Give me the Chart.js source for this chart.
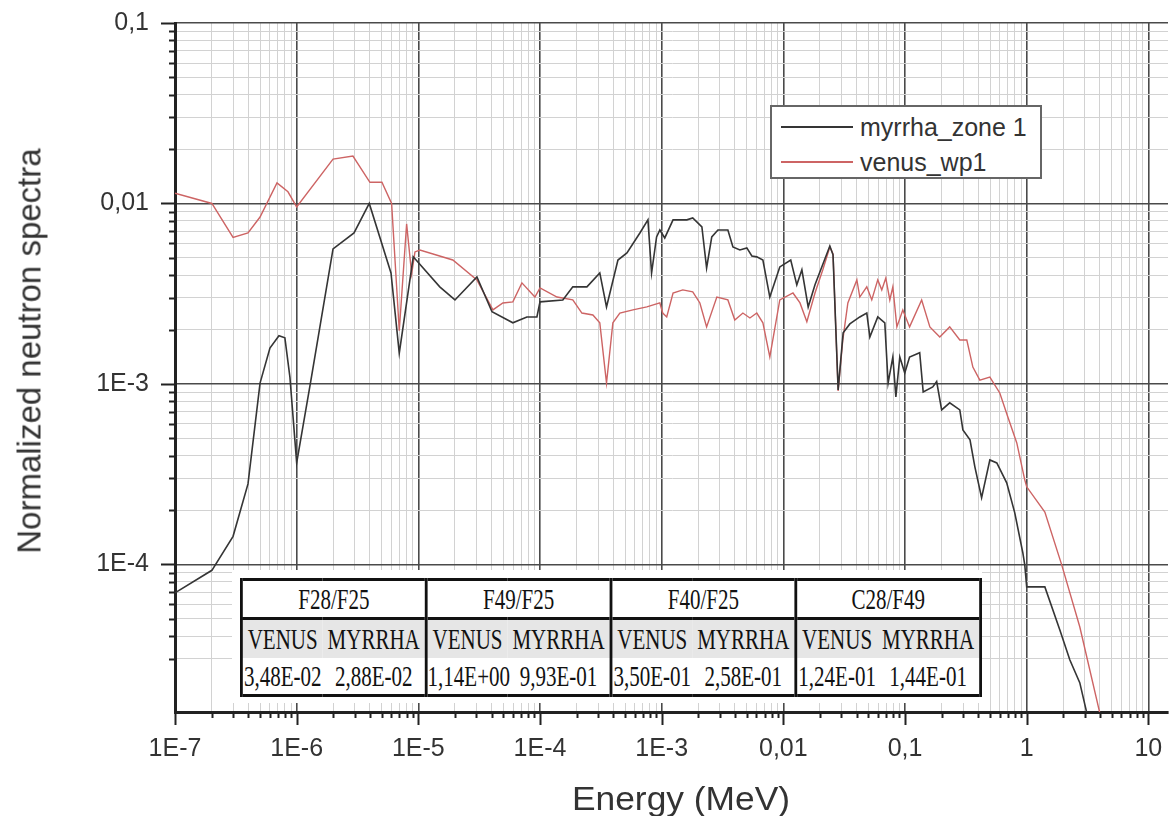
<!DOCTYPE html>
<html>
<head>
<meta charset="utf-8">
<title>Normalized neutron spectra</title>
<script src="https://cdn.jsdelivr.net/npm/chart.js@4.4.0/dist/chart.umd.min.js"></script>
<style>
  body { margin: 0; background: #fff; }
  #wrap { position: relative; width: 1170px; height: 816px; overflow: hidden; }
  #spectra { position: absolute; left: 0; top: 0; }

  .axis-title {
    position: absolute;
    font-family: "Liberation Sans", Arial, sans-serif;
    color: #333;
    white-space: nowrap;
    line-height: 1;
  }
  #xTitle { left: 681px; top: 798px; font-size: 34px; transform: translate(-50%, -50%) scaleX(1.04); }
  #yTitle { left: 29px; top: 351px; font-size: 33px; transform: translate(-50%, -50%) rotate(-90deg); }

  #legend {
    position: absolute; left: 770px; top: 105px;
    width: 268px; height: 70px;
    border: 2px solid #666; background: #fff;
    font-family: "Liberation Sans", Arial, sans-serif; font-size: 25px; color: #333;
  }
  #legend .item { position: absolute; left: 9px; height: 30px; display: flex; align-items: center; white-space: nowrap; }
  #legend .item i { display: inline-block; width: 72px; height: 0; border-top: 2px solid; margin-right: 7px; }

  #tableBox { position: absolute; left: 232px; top: 570px; width: 750px; height: 133px; background: #fff; }
  #ratios {
    position: absolute; left: 8px; top: 8px; width: 1057px;
    transform-origin: 0 0; transform: scaleX(0.7);
    border-collapse: collapse; table-layout: fixed;
    border: 4.5px solid #111; border-top-width: 3px; border-bottom-width: 3px;
    font-family: "Liberation Serif", "Times New Roman", serif; font-size: 30px; color: #111;
  }
  #ratios col.l { width: 116px; }
  #ratios col.r { width: 148px; }
  #ratios th { height: 36px; padding: 0; font-weight: normal; border-right: 4px solid #111; border-bottom: 3px solid #111; }
  #ratios td { padding: 0; text-align: center; white-space: nowrap; }
  #ratios td.r { border-right: 4px solid #111; }
  #ratios tr.sub td { height: 38px; background: #e6e6e6; }
  #ratios tr.val td { height: 36px; }
</style>
</head>
<body>
<div id="wrap">
  <canvas id="spectra" width="1170" height="816"></canvas>
  <div class="axis-title" id="xTitle">Energy (MeV)</div>
  <div class="axis-title" id="yTitle">Normalized neutron spectra</div>
  <div id="legend"></div>
  <div id="tableBox"><table id="ratios"></table></div>
</div>

<script>
// axis ranges and tick labels
const xRange = [1e-7, 14.5];
const yRange = [1.52e-5, 0.1];
const xTickValues = [1e-7, 1e-6, 1e-5, 1e-4, 1e-3, 0.01, 0.1, 1, 10];
const xTickLabels = ['1E-7', '1E-6', '1E-5', '1E-4', '1E-3', '0,01', '0,1', '1', '10'];
const yTickValues = [1e-4, 1e-3, 0.01, 0.1];
const yTickLabels = ['1E-4', '1E-3', '0,01', '0,1'];

// myrrha_zone 1 (energy in MeV, normalized flux)
const myrrhaEnergy = [
  1e-7, 2.01e-7, 3.0e-7, 3.98e-7, 5.0e-7, 6.03e-7, 7.15e-7, 8.0e-7, 8.8e-7, 1.0e-6,
  1.31e-6, 1.99e-6, 2.96e-6, 3.95e-6, 5.96e-6, 6.97e-6, 9.08e-6, 1.5e-5, 2.0e-5, 3.03e-5,
  4.03e-5, 5.98e-5, 7.8e-5, 9.43e-5, 1.0e-4, 1.54e-4, 1.86e-4, 2.43e-4, 3.1e-4, 3.52e-4,
  4.37e-4, 5.18e-4, 6.62e-4, 7.71e-4, 8.26e-4, 9.08e-4, 9.66e-4, 1.06e-3, 1.24e-3, 1.61e-3,
  1.8e-3, 2.14e-3, 2.34e-3, 2.58e-3, 2.9e-3, 3.5e-3, 3.85e-3, 4.39e-3, 5.01e-3, 5.51e-3,
  6.05e-3, 6.79e-3, 7.74e-3, 9.35e-3, 1.15e-2, 1.29e-2, 1.42e-2, 1.6e-2, 1.82e-2, 2.41e-2,
  2.56e-2, 2.82e-2, 3.1e-2, 3.52e-2, 4.25e-2, 4.85e-2, 5.14e-2, 5.97e-2, 6.82e-2, 7.26e-2,
  7.94e-2, 8.41e-2, 9.06e-2, 9.95e-2, 0.109, 0.132, 0.141, 0.169, 0.182, 0.2,
  0.233, 0.282, 0.299, 0.342, 0.375, 0.426, 0.498, 0.568, 0.685, 0.798,
  0.929, 0.964, 1.0, 1.41, 1.87, 2.26, 2.73, 3.12, 3.43
];
const myrrhaFlux = [
  6.95e-5, 9.27e-5, 1.43e-4, 2.79e-4, 1.01e-3, 1.58e-3, 1.85e-3, 1.8e-3, 1.09e-3, 3.65e-4,
  1.05e-3, 5.6e-3, 6.86e-3, 1.0e-2, 4.12e-3, 1.48e-3, 5.06e-3, 3.45e-3, 2.92e-3, 3.92e-3,
  2.51e-3, 2.18e-3, 2.35e-3, 2.35e-3, 2.85e-3, 2.92e-3, 3.45e-3, 3.45e-3, 4.12e-3, 2.67e-3,
  4.86e-3, 5.32e-3, 6.86e-3, 8.11e-3, 4.12e-3, 6.52e-3, 7.13e-3, 6.44e-3, 8.11e-3, 8.11e-3,
  8.32e-3, 7.41e-3, 4.39e-3, 6.52e-3, 7.13e-3, 7.13e-3, 5.74e-3, 5.52e-3, 5.67e-3, 5.12e-3,
  5.06e-3, 4.86e-3, 3.03e-3, 4.45e-3, 4.86e-3, 3.54e-3, 4.29e-3, 2.67e-3, 3.54e-3, 5.81e-3,
  5.19e-3, 9.27e-4, 1.92e-3, 2.15e-3, 2.35e-3, 2.47e-3, 1.82e-3, 2.35e-3, 2.18e-3, 1.01e-3,
  1.41e-3, 8.47e-4, 1.41e-3, 1.15e-3, 1.41e-3, 1.49e-3, 9.03e-4, 9.62e-4, 1.03e-3, 7.18e-4,
  7.85e-4, 7.18e-4, 5.56e-4, 4.9e-4, 3.47e-4, 2.34e-4, 3.79e-4, 3.65e-4, 2.83e-4, 1.93e-4,
  1.16e-4, 9.93e-5, 7.5e-5, 7.5e-5, 4.34e-5, 2.96e-5, 2.21e-5, 1.5e-5, 1.07e-5
];

// venus_wp1
const venusEnergy = [
  1e-7, 2.01e-7, 3.0e-7, 3.98e-7, 5.0e-7, 6.89e-7, 8.48e-7, 1.0e-6, 1.99e-6, 2.9e-6,
  4.0e-6, 5.02e-6, 6.03e-6, 6.97e-6, 8.01e-6, 8.81e-6, 9.38e-6, 1.03e-5, 1.92e-5, 3.03e-5,
  4.1e-5, 4.95e-5, 5.98e-5, 7.1e-5, 9.08e-5, 1.0e-4, 1.38e-4, 1.86e-4, 2.21e-4, 2.72e-4,
  3.1e-4, 3.52e-4, 3.97e-4, 4.53e-4, 5.8e-4, 7.55e-4, 9.66e-4, 1.02e-3, 1.1e-3, 1.24e-3,
  1.49e-3, 1.8e-3, 2.06e-3, 2.34e-3, 2.84e-3, 3.5e-3, 3.99e-3, 4.65e-3, 5.31e-3, 6.05e-3,
  6.79e-3, 7.74e-3, 9.35e-3, 1.2e-2, 1.37e-2, 1.56e-2, 1.82e-2, 2.11e-2, 2.41e-2, 2.56e-2,
  2.82e-2, 3.08e-2, 3.39e-2, 4.02e-2, 4.25e-2, 4.85e-2, 5.33e-2, 5.97e-2, 6.44e-2, 6.95e-2,
  7.5e-2, 7.94e-2, 8.57e-2, 9.59e-2, 0.109, 0.137, 0.16, 0.193, 0.233, 0.282,
  0.322, 0.361, 0.412, 0.498, 0.601, 0.7, 0.829, 0.964, 1.0, 1.41,
  1.94, 2.73, 3.99, 4.3
];
const venusFlux = [
  1.14e-2, 1.0e-2, 6.49e-3, 6.86e-3, 8.41e-3, 1.3e-2, 1.16e-2, 9.57e-3, 1.76e-2, 1.83e-2,
  1.31e-2, 1.31e-2, 1.0e-2, 1.97e-3, 7.7e-3, 4.07e-3, 5.39e-3, 5.52e-3, 4.86e-3, 3.77e-3,
  2.57e-3, 2.81e-3, 2.85e-3, 3.63e-3, 3.03e-3, 3.4e-3, 3.03e-3, 2.92e-3, 2.47e-3, 2.41e-3,
  2.18e-3, 1.01e-3, 2.18e-3, 2.47e-3, 2.57e-3, 2.67e-3, 2.81e-3, 2.47e-3, 2.35e-3, 3.19e-3,
  3.32e-3, 3.24e-3, 2.81e-3, 2.07e-3, 3.03e-3, 2.92e-3, 2.26e-3, 2.47e-3, 2.32e-3, 2.47e-3,
  2.18e-3, 1.41e-3, 2.92e-3, 3.19e-3, 2.81e-3, 2.21e-3, 3.19e-3, 4.29e-3, 5.74e-3, 5.25e-3,
  9.14e-4, 1.75e-3, 2.81e-3, 3.77e-3, 3.03e-3, 3.45e-3, 2.92e-3, 3.77e-3, 3.32e-3, 3.86e-3,
  2.92e-3, 3.45e-3, 2.07e-3, 2.57e-3, 2.07e-3, 2.92e-3, 2.07e-3, 1.82e-3, 2.07e-3, 1.75e-3,
  1.75e-3, 1.24e-3, 1.05e-3, 1.09e-3, 8.91e-4, 6.56e-4, 4.71e-4, 2.94e-4, 2.69e-4, 1.95e-4,
  9.93e-5, 4.51e-5, 1.5e-5, 1.21e-5
];

// spectral index table
const ratioNames = ['F28/F25', 'F49/F25', 'F40/F25', 'C28/F49'];
const venusRatios = ['3,48E-02', '1,14E+00', '3,50E-01', '1,24E-01'];
const myrrhaRatios = ['2,88E-02', '9,93E-01', '2,58E-01', '1,44E-01'];

const seriesNames = ['myrrha_zone 1', 'venus_wp1'];
const seriesColors = ['#353535', 'rgb(205, 100, 100)'];

// ---- helpers for log ticks
function mantissa(v) {
  const e = Math.floor(Math.log10(v) + 1e-9);
  return v / Math.pow(10, e);
}
function isDecade(v) { return Math.abs(mantissa(v) - 1) < 1e-6; }
function isWhole(v) { const m = mantissa(v); return Math.abs(m - Math.round(m)) < 1e-6; }
function labelFor(values, labels, v) {
  const i = values.findIndex(t => Math.abs(Math.log10(t) - Math.log10(v)) < 1e-6);
  return i >= 0 ? labels[i] : '';
}
function gridColor(ctx) {
  const v = ctx.tick.value;
  if (isDecade(v)) return '#4a4a4a';
  if (!isWhole(v)) return 'rgba(0,0,0,0)';
  return '#d2d2d2';
}
function gridWidth(ctx) { return isDecade(ctx.tick.value) ? 1.6 : 1; }

// tick marks: long on decades, short on the 2..9 steps
const axisTicks = {
  id: 'axisTicks',
  afterDraw(chart) {
    const ctx = chart.ctx;
    const xs = chart.scales.x;
    const ys = chart.scales.y;
    ctx.save();
    ctx.strokeStyle = '#222';
    ctx.lineWidth = 2;
    ctx.beginPath();
    xs.ticks.forEach(t => {
      if (!isWhole(t.value)) return;
      const px = Math.round(xs.getPixelForValue(t.value)) + 0.5;
      ctx.moveTo(px, xs.top);
      ctx.lineTo(px, xs.top + (isDecade(t.value) ? 13 : 6));
    });
    ys.ticks.forEach(t => {
      if (!isWhole(t.value)) return;
      const py = Math.round(ys.getPixelForValue(t.value)) + 0.5;
      ctx.moveTo(ys.right, py);
      ctx.lineTo(ys.right - (isDecade(t.value) ? 14 : 6), py);
    });
    ctx.stroke();
    ctx.restore();
  }
};

const tickFont = { family: 'Liberation Sans', size: 25 };

const ctx_spectra = document.getElementById('spectra').getContext('2d');
const spectraChart = new Chart(ctx_spectra, {
  type: 'line',
  data: {
    datasets: [{
      label: seriesNames[0],
      data: myrrhaEnergy.map((e, i) => ({ x: e, y: myrrhaFlux[i] })),
      borderColor: seriesColors[0],
      borderWidth: 1.6,
      pointRadius: 0,
      tension: 0,
      fill: false
    }, {
      label: seriesNames[1],
      data: venusEnergy.map((e, i) => ({ x: e, y: venusFlux[i] })),
      borderColor: seriesColors[1],
      borderWidth: 1.4,
      pointRadius: 0,
      tension: 0,
      fill: false
    }]
  },
  options: {
    responsive: false,
    maintainAspectRatio: false,
    animation: false,
    layout: { padding: { top: 23, right: 2, bottom: 0, left: 0 } },
    scales: {
      x: {
        type: 'logarithmic',
        min: xRange[0],
        max: xRange[1],
        afterFit: scale => {
          scale.height = 104;
          scale.paddingLeft = 0;   // keep the plot edges where the picture has them
          scale.paddingRight = 0;
        },
        grid: { color: gridColor, lineWidth: gridWidth, tickLength: 13, tickColor: 'rgba(0,0,0,0)' },
        border: { display: true, color: '#222', width: 3 },
        ticks: {
          autoSkip: false,
          maxRotation: 0,
          padding: 9,
          color: '#333',
          font: tickFont,
          callback: v => labelFor(xTickValues, xTickLabels, v)
        }
      },
      y: {
        type: 'logarithmic',
        min: yRange[0],
        max: yRange[1],
        afterFit: scale => {
          scale.width = 175;
          scale.paddingTop = 0;
          scale.paddingBottom = 0;
        },
        grid: { color: gridColor, lineWidth: gridWidth, tickLength: 14, tickColor: 'rgba(0,0,0,0)' },
        border: { display: true, color: '#222', width: 3 },
        ticks: {
          autoSkip: false,
          padding: 12,
          color: '#333',
          font: tickFont,
          callback: v => labelFor(yTickValues, yTickLabels, v)
        }
      }
    },
    plugins: {
      legend: { display: false },
      tooltip: { enabled: false }
    }
  },
  plugins: [axisTicks]
});

// legend box
const legend = document.getElementById('legend');
seriesNames.forEach((name, i) => {
  const row = document.createElement('div');
  row.className = 'item';
  row.style.top = (5 + i * 35) + 'px';
  row.innerHTML = '<i style="border-color:' + seriesColors[i] + '"></i>' + name;
  legend.appendChild(row);
});

// ratio table
const table = document.getElementById('ratios');
let html = '<colgroup>' + '<col class="l"><col class="r">'.repeat(4) + '</colgroup><tr>';
ratioNames.forEach(n => { html += '<th colspan="2">' + n + '</th>'; });
html += '</tr><tr class="sub">';
ratioNames.forEach(() => { html += '<td class="l">VENUS</td><td class="r">MYRRHA</td>'; });
html += '</tr><tr class="val">';
ratioNames.forEach((n, i) => { html += '<td class="l">' + venusRatios[i] + '</td><td class="r">' + myrrhaRatios[i] + '</td>'; });
html += '</tr>';
table.innerHTML = html;
</script>
</body>
</html>
